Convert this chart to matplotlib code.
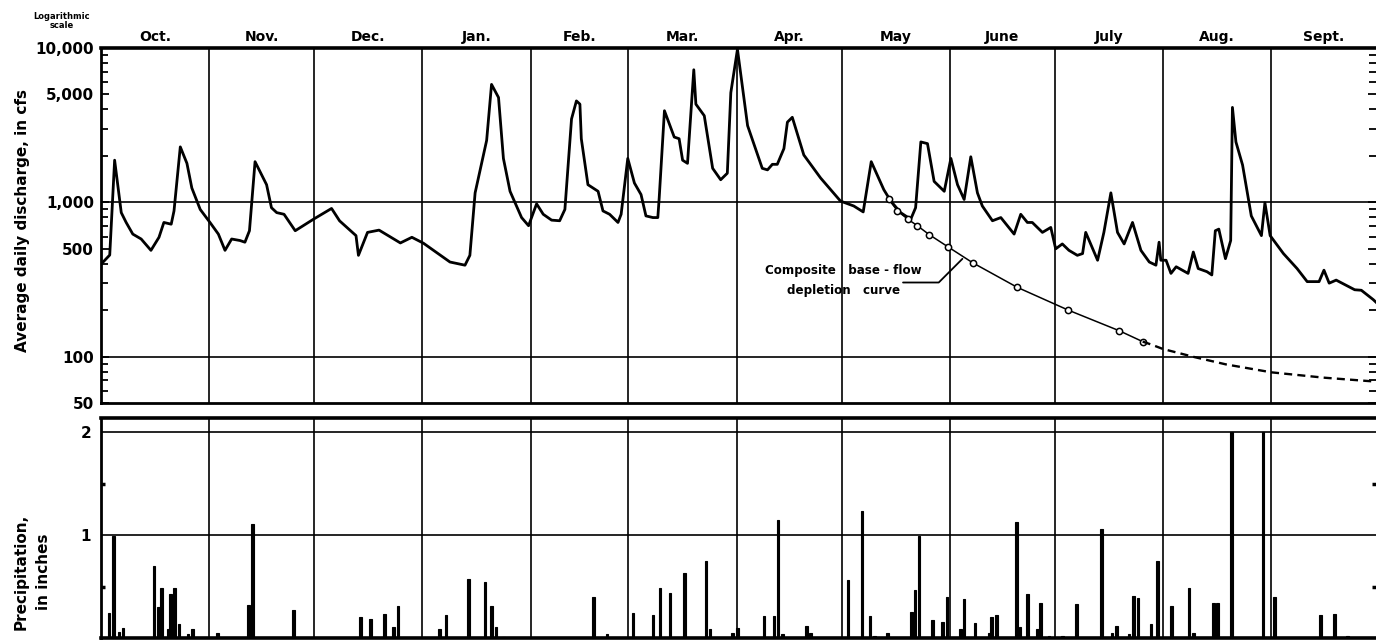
import matplotlib
matplotlib.use('Agg')
import matplotlib.pyplot as plt
from matplotlib.ticker import LogLocator, NullFormatter
import numpy as np

#%% data read off the hydrograph (day 0 = Oct 1)
month_names = ['Oct.', 'Nov.', 'Dec.', 'Jan.', 'Feb.', 'Mar.', 'Apr.',
               'May', 'June', 'July', 'Aug.', 'Sept.']
month_len = [31, 30, 31, 31, 28, 31, 30, 31, 30, 31, 31, 30]

flow_day = [0, 0.2, 2.5, 3.9, 5.8, 7.2, 9.1, 11.5, 14.3, 16.6, 18.0, 20.1, 20.9,
            22.7, 24.6, 26.0, 28.4, 31.2, 33.6, 35.5, 37.4, 39.8, 41.2, 42.5,
            44.1, 47.4, 48.8, 50.3, 52.4, 55.6, 57.9, 60.8, 66.0, 68.3, 73.0,
            73.7, 76.3, 79.6, 85.7, 89.0, 92.3, 99.9, 104.2, 105.6, 107.1,
            110.4, 111.8, 113.8, 115.2, 117.1, 120.4, 122.4, 124.7, 126.6,
            129.0, 131.3, 132.8, 134.7, 136.1, 137.1, 137.5, 139.4, 142.3,
            143.7, 145.6, 148.0, 148.9, 150.8, 152.7, 154.6, 156.0, 158.0,
            159.4, 159.8, 161.3, 164.1, 165.5, 166.5, 167.9, 169.7, 170.3,
            172.7, 175.1, 177.4, 179.3, 180.3, 182.2, 185.1, 189.3, 190.8,
            192.2, 193.6, 195.5, 196.5, 197.9, 201.2, 206.0, 211.7, 215.5,
            218.2, 220.5, 224.1, 226.1, 228.9, 231.8, 233.2, 234.7, 236.6,
            238.5, 241.4, 243.3, 245.2, 247.1, 249.0, 250.9, 252.3, 255.2,
            257.6, 261.4, 263.3, 265.2, 266.6, 269.5, 271.9, 273.3, 275.2,
            277.1, 279.5, 281.0, 281.9, 285.3, 287.1, 289.1, 291.0, 292.9,
            295.3, 297.7, 300.1, 302.0, 302.9, 303.4, 304.9, 306.3, 307.8,
            311.2, 312.7, 314.1, 316.6, 318.0, 319.0, 320.0, 321.9, 323.4,
            323.9, 324.9, 326.8, 329.3, 332.2, 333.2, 334.7, 338.5, 342.4,
            345.3, 348.7, 350.1, 351.6, 353.6, 358.9, 360.8, 364.2, 365]
flow_cfs = [395, 401, 455, 1874, 857, 740, 622, 578, 488, 593, 740, 721, 879,
            2286, 1788, 1238, 899, 740, 622, 488, 578, 565, 551, 654,
            1833, 1300, 922, 857, 836, 654, 705, 776, 912, 758, 608,
            453, 638, 660, 545, 593, 543, 410, 391, 453, 1151,
            2518, 5807, 4777, 1924, 1178, 796, 705, 977, 836,
            766, 759, 899, 3467, 4539, 4325, 2582, 1300, 1178,
            879, 836, 740, 836, 1924, 1333, 1122, 816, 796,
            796, 1069, 3921, 2647, 2582, 1874, 1788, 7227, 4325,
            3640, 1660, 1400, 1543, 5132, 9800, 3139, 1660, 1622,
            1762, 1762, 2228, 3306, 3555, 2025, 1437, 1018, 946,
            866, 1833, 1207, 1018, 857, 776, 922, 2461, 2400,
            1366, 1178, 1924, 1300, 1043, 1972, 1151, 946, 759,
            796, 622, 836, 740, 740, 638, 687, 499, 537,
            488, 453, 465, 638, 421, 638, 1151, 638, 537,
            740, 488, 410, 391, 551, 421, 421, 346, 382,
            346, 476, 372, 355, 338, 654, 670, 431, 565,
            4121, 2461, 1745, 816, 608, 993, 608, 465, 372,
            306, 306, 363, 299, 313, 271, 269, 234, 225]

# composite base-flow depletion curve: observed part and extrapolated part
base_day = [225.6, 228.0, 231.0, 233.7, 237.1, 242.6, 249.5, 262.3, 276.9,
            291.5, 298.2]
base_cfs = [1043, 879, 776, 705, 617, 512, 406, 281, 200, 147, 125]
ext_day = [298.2, 300.5, 304.0, 313.2, 322.0, 335.1, 350.0, 364.2, 365]
ext_cfs = [125, 120, 112, 99, 89, 79, 73, 69, 68.5]

rain_day = [2.3, 3.5, 5.2, 6.3, 15.2, 16.4, 17.4, 19.2, 19.9, 21.1, 22.3, 24.9,
            26.2, 33.3, 42.2, 43.3, 55.1, 74.2, 77.1, 81.2, 83.8, 85.0, 96.9,
            98.8, 105.2, 109.9, 111.8, 113.1, 115.2, 141.0, 144.9, 152.3,
            158.0, 160.0, 162.9, 167.0, 173.2, 174.3, 180.8, 182.2, 189.8,
            192.7, 193.8, 195.1, 201.9, 203.1, 213.9, 217.9, 220.1, 221.4,
            225.1, 232.0, 233.0, 234.2, 238.1, 240.9, 242.2, 246.1, 247.1,
            250.2, 254.2, 255.0, 256.3, 262.1, 263.1, 265.2, 268.1, 269.0,
            271.4, 275.2, 279.2, 286.4, 289.4, 290.7, 294.3, 295.5, 296.9,
            300.6, 302.5, 306.5, 311.5, 312.7, 318.5, 319.7, 323.6, 332.7,
            335.9, 349.2, 353.1, 356.9]
rain_in = [0.24, 0.99, 0.055, 0.10, 0.70, 0.30, 0.49, 0.085, 0.43, 0.49, 0.14,
           0.035, 0.09, 0.045, 0.32, 1.11, 0.27, 0.20, 0.18, 0.23, 0.11, 0.31,
           0.085, 0.22, 0.57, 0.54, 0.31, 0.11, 0.01, 0.40, 0.035, 0.24,
           0.22, 0.49, 0.44, 0.63, 0.75, 0.085, 0.05, 0.10, 0.21,
           0.21, 1.15, 0.035, 0.12, 0.045, 0.56, 1.23, 0.21, 0.02,
           0.045, 0.25, 0.47, 0.99, 0.17, 0.16, 0.40, 0.085, 0.38,
           0.15, 0.045, 0.20, 0.22, 1.13, 0.11, 0.43, 0.085, 0.34,
           0.02, 0.02, 0.33, 1.06, 0.05, 0.12, 0.035, 0.41, 0.39,
           0.135, 0.75, 0.31, 0.49, 0.05, 0.34, 0.34, 2.0, 2.0,
           0.40, 0.22, 0.23, 0.02]

q_ticks = [50, 100, 500, 1000, 5000, 10000]
q_labels = ['50', '100', '500', '1,000', '5,000', '10,000']
q_grid = [100, 1000]
p_ticks = [1, 2]
p_minor = [0.5, 1.5]

#%% figure
W, H = 1376, 642
fig = plt.figure(figsize=(W / 100, H / 100), dpi=100)
ax1 = fig.add_axes([101 / W, 1 - 403 / H, 1 - 101 / W, (403 - 48) / H])
ax2 = fig.add_axes([101 / W, 1 - 638 / H, 1 - 101 / W, (638 - 418) / H])

edges = np.cumsum([0] + month_len)
mids = (edges[:-1] + edges[1:]) / 2
bold = dict(fontweight='bold', family='DejaVu Sans')

for ax in (ax1, ax2):
    ax.set_xlim(0, 365)
    ax.set_xticks(edges[1:-1], minor=True)
    ax.grid(which='minor', axis='x', color='black', lw=1.2)
    ax.tick_params(axis='x', which='both', length=0)
    ax.spines['right'].set_visible(False)
    ax.spines['left'].set_linewidth(2)
    ax.spines['top'].set_linewidth(2.6)
    ax.spines['bottom'].set_linewidth(2)
    ax.set_axisbelow(True)

# discharge
ax1.plot(flow_day, flow_cfs, color='black', lw=2.0, solid_joinstyle='round', zorder=3)
ax1.plot(base_day, base_cfs, color='black', lw=1.1, marker='o', ms=4.5,
         mfc='white', mew=1.1, zorder=4)
ax1.plot(ext_day, ext_cfs, color='black', lw=1.7, dashes=(3.4, 2.2), zorder=4)
for q in q_grid:
    ax1.axhline(q, color='black', lw=1.2, zorder=1)
ax1.set_yscale('log')
ax1.set_ylim(50, 10000)
ax1.set_yticks(q_ticks, q_labels)
ax1.yaxis.set_minor_locator(LogLocator(base=10, subs=range(2, 10)))
ax1.yaxis.set_minor_formatter(NullFormatter())
ax1.tick_params(axis='y', which='both', direction='in', left=True, right=True,
                labelsize=11, pad=5, width=1.3)
ax1.tick_params(axis='y', which='major', length=6)
ax1.tick_params(axis='y', which='minor', length=5)
ax1.xaxis.tick_top()
ax1.set_xticks(mids, month_names)
ax1.tick_params(axis='x', which='major', labelsize=10, pad=3)
for lab in ax1.get_xticklabels() + ax1.get_yticklabels():
    lab.set_fontweight('bold')

ax1.text(212.6, 312, 'Composite   base - flow\ndepletion   curve', ha='center',
         va='center', fontsize=8.6, linespacing=1.75, **bold)
ax1.annotate('', xy=(246.6, 430), xytext=(229.6, 302),
             arrowprops=dict(arrowstyle='-', lw=1.3, shrinkA=0, shrinkB=0,
                             connectionstyle='angle,angleA=0,angleB=45,rad=0'))

# precipitation
ax2.bar(rain_day, rain_in, width=0.75, color='black', edgecolor='black',
        lw=0.8, zorder=3)
ax2.set_ylim(0, 2.136)
ax2.set_xticks([])
ax2.set_yticks(p_ticks, [str(p) for p in p_ticks])
ax2.set_yticks(p_minor, minor=True)
ax2.grid(which='major', axis='y', color='black', lw=1.2)
ax2.tick_params(axis='y', which='both', direction='in', left=True, right=True,
                labelsize=11, pad=7, width=2.5)
ax2.tick_params(axis='y', which='major', length=0)
ax2.tick_params(axis='y', which='minor', length=3)
for lab in ax2.get_yticklabels():
    lab.set_fontweight('bold')
ax2.spines['bottom'].set_linewidth(2.6)

fig.text(62 / W, 1 - 21 / H, 'Logarithmic\nscale', ha='center', va='center',
         fontsize=6, linespacing=0.95, **bold)
fig.text(23 / W, 1 - 221 / H, 'Average daily discharge, in cfs', rotation=90,
         ha='center', va='center', fontsize=11, **bold)
fig.text(32 / W, 1 - 572 / H, 'Precipitation,\nin inches', rotation=90,
         ha='center', va='center', fontsize=11, linespacing=1.6, **bold)

fig.savefig('out.png', dpi=100)
